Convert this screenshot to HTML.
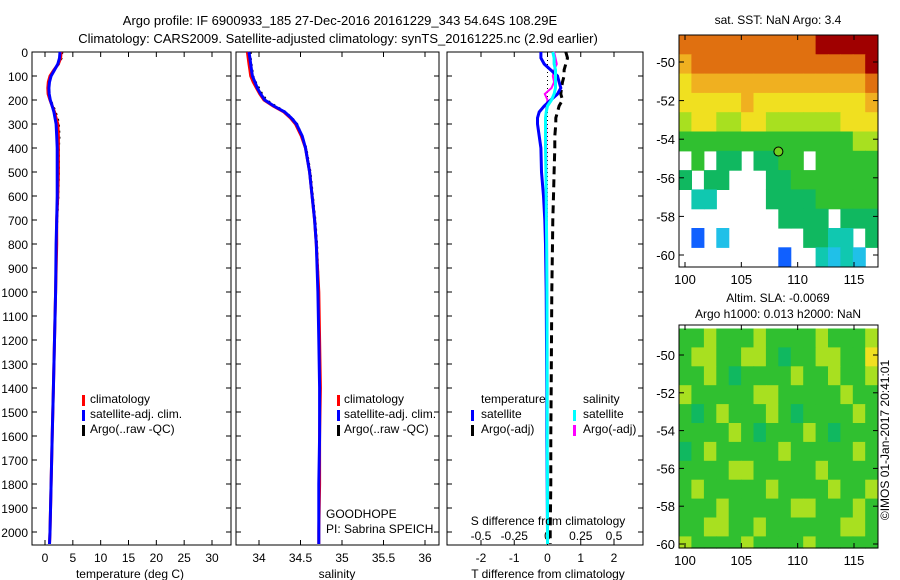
<!DOCTYPE html>
<html><head><meta charset="utf-8">
<style>
html,body{margin:0;padding:0;background:#fff;}
svg{display:block;font-family:"Liberation Sans",sans-serif;}
text{font-size:12px;fill:#000;}
</style></head>
<body>
<svg id="fig" width="900" height="580" viewBox="0 0 900 580">
<text x="340" y="25" text-anchor="middle" style="font-size:13px">Argo profile: IF 6900933_185 27-Dec-2016 20161229_343 54.64S 108.29E</text>
<text x="338" y="43" text-anchor="middle" style="font-size:13px">Climatology: CARS2009. Satellite-adjusted climatology: synTS_20161225.nc (2.9d earlier)</text>
<text x="778" y="24" text-anchor="middle">sat. SST: NaN Argo: 3.4</text>
<text x="778" y="302" text-anchor="middle">Altim. SLA: -0.0069</text>
<text x="778" y="318" text-anchor="middle">Argo h1000: 0.013 h2000: NaN</text>
<text x="0" y="0" transform="translate(889,440) rotate(-90)" text-anchor="middle">©IMOS 01-Jan-2017 20:41:01</text>
<g id="g"></g>
</svg>
<script>
// ---- profile data ----
const depths = [0,25,50,75,100,125,150,175,200,225,250,275,300,350,400,500,600,700,800,1000,1200,1400,1600,1800,2000,2050];
const tempClim = [2.9,2.8,2.4,1.6,0.9,0.6,0.5,0.55,0.9,1.3,1.7,2.0,2.3,2.4,2.4,2.4,2.3,2.1,2.1,1.9,1.7,1.5,1.3,1.1,0.9,0.8];
const tempSat  = [2.7,2.6,2.3,1.7,1.1,0.8,0.7,0.75,0.95,1.3,1.6,1.8,2.0,2.1,2.2,2.2,2.2,2.1,2.0,1.9,1.7,1.5,1.3,1.1,0.9,0.8];
const tempArgo = [3.1,3.0,2.5,1.7,1.0,0.7,0.6,0.7,1.0,1.5,1.9,2.3,2.5,2.6,2.5,2.5,2.4,2.2,2.1,1.9,1.7,1.5,1.3,1.1,0.9,0.8];
const salClim = [33.86,33.87,33.88,33.89,33.9,33.93,33.97,34.01,34.06,34.17,34.3,34.38,34.44,34.51,34.56,34.61,34.64,34.67,34.69,34.72,34.73,34.74,34.73,34.73,34.72,34.72];
const salSat  = [33.88,33.89,33.9,33.91,33.92,33.95,33.98,34.02,34.07,34.18,34.31,34.39,34.45,34.52,34.56,34.61,34.64,34.67,34.69,34.71,34.72,34.73,34.73,34.72,34.72,34.72];
const salArgo = [33.9,33.9,33.91,33.92,33.93,33.96,34.0,34.04,34.09,34.2,34.32,34.4,34.46,34.52,34.57,34.62,34.65,34.68,34.7,34.72,34.73,34.74,34.73,34.73,34.72,34.72];
const tDiffSat  = [-0.2,-0.2,-0.1,0.1,0.3,0.35,0.4,0.3,0.1,-0.1,-0.25,-0.3,-0.3,-0.25,-0.2,-0.18,-0.12,-0.08,-0.06,-0.04,-0.03,-0.02,-0.02,-0.01,0.0,0.0];
const tDiffArgo = [0.55,0.6,0.55,0.5,0.5,0.45,0.42,0.4,0.45,0.35,0.3,0.25,0.25,0.22,0.22,0.2,0.18,0.16,0.15,0.13,0.12,0.11,0.1,0.1,0.08,0.08];
const sDiffSat  = [0.04,0.05,0.05,0.06,0.06,0.06,0.06,0.05,0.03,0.0,-0.01,-0.015,-0.015,-0.015,-0.015,-0.012,-0.01,-0.008,-0.006,-0.004,-0.003,-0.002,-0.002,-0.001,0.0,0.0];
const sDiffArgo = [0.05,0.06,0.07,0.05,0.04,0.05,0.03,-0.02,0.0,-0.01,-0.01,-0.015,-0.01,-0.01,-0.01,-0.008,-0.006,-0.005,-0.004,-0.003,-0.002,-0.002,-0.001,0.0,0.0,0.0];
const depthTicks = [0,100,200,300,400,500,600,700,800,900,1000,1100,1200,1300,1400,1500,1600,1700,1800,1900,2000];
const tempTicks = [0,5,10,15,20,25,30];
const salTicks = [34,34.5,35,35.5,36];
const salTickLabels = ["34","34.5","35","35.5","36"];
const tdTicks = [-2,-1,0,1,2];
const sdTicks = [-0.5,-0.25,0,0.25,0.5];
const sdTickLabels = ["-0.5","-0.25","0","0.25","0.5"];
// ---- map data (value codes 0..9, -1 = missing) ----
const sstRows = [
[8,8,8,8,8,8,8,8,8,8,8,9,9,9,9,9],
[7,8,8,8,8,8,8,8,8,8,8,8,8,8,8,9],
[6,7,7,7,7,7,7,7,7,7,7,7,7,7,7,8],
[6,6,6,6,6,7,6,6,6,6,6,6,6,6,6,7],
[5,6,6,5,5,6,6,5,5,5,5,5,5,6,6,6],
[4,4,4,4,4,4,4,4,4,4,4,4,4,4,5,5],
[-1,4,-1,3,3,-1,3,3,4,4,-1,4,4,4,4,4],
[3,-1,3,3,-1,-1,-1,3,3,4,4,4,4,4,4,4],
[-1,2,2,-1,-1,-1,-1,3,3,3,3,4,4,4,4,4],
[-1,-1,-1,-1,-1,-1,-1,-1,3,3,3,3,-1,3,3,3],
[-1,0,-1,1,-1,-1,-1,-1,-1,-1,3,3,2,2,-1,3],
[-1,-1,-1,-1,-1,-1,-1,-1,0,-1,-1,2,1,2,1,-1]];
const slaRows = [
[4,4,5,4,4,4,5,4,4,4,4,5,4,4,4,5],
[4,5,5,4,4,5,5,4,3,4,4,5,5,4,4,6],
[4,4,5,4,3,4,4,4,4,5,4,4,5,4,4,5],
[5,4,4,4,4,4,5,5,4,4,4,4,4,5,4,4],
[4,3,4,5,4,4,4,5,4,3,4,4,4,4,5,4],
[4,4,4,4,5,4,3,4,4,4,5,4,3,4,4,4],
[3,4,5,4,4,4,4,4,5,4,4,4,4,4,5,4],
[4,4,4,4,5,5,4,4,4,4,4,5,4,4,4,4],
[4,5,4,4,4,4,4,5,4,4,4,4,5,4,4,5],
[4,4,4,5,4,4,4,4,4,5,5,4,4,4,5,4],
[4,4,5,5,4,4,5,4,4,4,4,4,4,5,5,4],
[5,4,4,4,4,5,4,4,4,4,5,4,4,4,4,4]];
const lonTicks = [100,105,110,115];
const latTicks = [-50,-52,-54,-56,-58,-60];
const floatLon = 108.29, floatLat = -54.64;
const palette = ["#1060ff","#20c0e8","#10c8b0","#10b860","#30c030","#a8e020","#f0e020","#f0b020","#e07010","#a00000"];

const NS = "http://www.w3.org/2000/svg";
const G = document.getElementById('g');
function mk(tag, attrs, parent){const e=document.createElementNS(NS,tag);for(const k in attrs)e.setAttribute(k,attrs[k]);(parent||G).appendChild(e);return e;}
function lin(d0,d1,r0,r1){return v=>r0+(v-d0)*(r1-r0)/(d1-d0);}
const yD = lin(0,2000,52,532);
const PT=52, PB=545;

function panel(name,x0,x1){
  const r=mk('rect',{x:x0,y:PT,width:x1-x0,height:PB-PT,fill:'none',stroke:'#000','stroke-width':1});
  
  
  depthTicks.forEach(d=>{
    const y=yD(d);
    mk('line',{x1:x0,x2:x0+5,y1:y,y2:y,stroke:'#000'});
    mk('line',{x1:x1-5,x2:x1,y1:y,y2:y,stroke:'#000'});
  });
}
function profile(name,xs,vals,color,w,dash){
  const pts=vals.map((v,i)=>xs(v).toFixed(1)+','+yD(depths[i]).toFixed(1)).join(' ');
  const a={points:pts,fill:'none',stroke:color,'stroke-width':w};
  if(dash)a['stroke-dasharray']=dash;
  const p=mk('polyline',a);
  
  
}
function txt(s,x,y,anchor,name,size){
  const t=mk('text',{x:x,y:y,'text-anchor':anchor||'start'});
  if(size)t.style.fontSize=size+'px';
  t.textContent=s;
  
  
  return t;
}
function legendMark(x,y,color,name){
  const r=mk('rect',{x:x,y:y-9,width:3,height:11,fill:color});
  
  
}

depthTicks.forEach(d=>{ txt(String(d),28,yD(d)+5,'end','depth-tick-label'); });

// Panel 1: temperature
const xT = lin(0,30,45,212);
panel('temperature-panel',32,231);
tempTicks.forEach(v=>{const x=xT(v);mk('line',{x1:x,x2:x,y1:PB,y2:PB-5,stroke:'#000'});mk('line',{x1:x,x2:x,y1:PT,y2:PT+5,stroke:'#000'});txt(String(v),x,562,'middle','temperature-tick-label');});
profile('temperature-argo',xT,tempArgo,'#000',2,'2,4');
profile('temperature-climatology',xT,tempClim,'#f00',3);
profile('temperature-satellite',xT,tempSat,'#00f',3);
txt('temperature (deg C)',130,578,'middle','temperature-axis-title');
legendMark(82,404,'#f00','legend-climatology-mark');txt('climatology',90,403,'start','legend-climatology');
legendMark(82,419,'#00f','legend-satellite-mark');txt('satellite-adj. clim.',90,418,'start','legend-satellite');
legendMark(82,434,'#000','legend-argo-mark');txt('Argo(..raw -QC)',90,433,'start','legend-argo');

// Panel 2: salinity
const xS = lin(34,36,259,425);
panel('salinity-panel',236,439);
salTicks.forEach((v,i)=>{const x=xS(v);mk('line',{x1:x,x2:x,y1:PB,y2:PB-5,stroke:'#000'});mk('line',{x1:x,x2:x,y1:PT,y2:PT+5,stroke:'#000'});txt(salTickLabels[i],x,562,'middle','salinity-tick-label');});
profile('salinity-argo',xS,salArgo,'#000',2,'2,4');
profile('salinity-climatology',xS,salClim,'#f00',3);
profile('salinity-satellite',xS,salSat,'#00f',3);
txt('salinity',337,578,'middle','salinity-axis-title');
legendMark(337,404,'#f00','legend2-climatology-mark');txt('climatology',344,403,'start','legend2-climatology');
legendMark(337,419,'#00f','legend2-satellite-mark');txt('satellite-adj. clim.',344,418,'start','legend2-satellite');
legendMark(337,434,'#000','legend2-argo-mark');txt('Argo(..raw -QC)',344,433,'start','legend2-argo');
txt('GOODHOPE',326,518,'start','project-label');
txt('PI: Sabrina SPEICH',326,533,'start','pi-label');

// Panel 3: differences
const xTD = lin(-2,2,481,614);
const xSD = lin(-0.5,0.5,481,614);
panel('difference-panel',447,643);
tdTicks.forEach(v=>{const x=xTD(v);mk('line',{x1:x,x2:x,y1:PB,y2:PB-5,stroke:'#000'});mk('line',{x1:x,x2:x,y1:PT,y2:PT+5,stroke:'#000'});txt(String(v),x,562,'middle','tdiff-tick-label');});
sdTicks.forEach((v,i)=>{txt(sdTickLabels[i],xSD(v),540,'middle','sdiff-tick-label');});
mk('line',{x1:xTD(0),x2:xTD(0),y1:PT,y2:PB,stroke:'#000','stroke-dasharray':'1,3'});
profile('tdiff-argo',xTD,tDiffArgo,'#000',3,'8,5');
profile('sdiff-argo',xSD,sDiffArgo,'#f0f',2);
profile('tdiff-satellite',xTD,tDiffSat,'#00f',3);
profile('sdiff-satellite',xSD,sDiffSat,'#0ff',3);
txt('S difference from climatology',548,525,'middle','sdiff-axis-title');
txt('T difference from climatology',548,578,'middle','tdiff-axis-title');
txt('temperature',481,403,'start','legend3-temperature-header');
txt('salinity',583,403,'start','legend3-salinity-header');
legendMark(471,419,'#00f','legend3-tsat-mark');txt('satellite',481,418,'start','legend3-tsat');
legendMark(471,434,'#000','legend3-targo-mark');txt('Argo(-adj)',481,433,'start','legend3-targo');
legendMark(573,419,'#0ff','legend3-ssat-mark');txt('satellite',583,418,'start','legend3-ssat');
legendMark(573,434,'#f0f','legend3-sargo-mark');txt('Argo(-adj)',583,433,'start','legend3-sargo');

// Maps
function drawMap(name,rows,top,bot,latPx0,latPx1,showFloat){
  const X0=679,X1=878;
  const xL=lin(100,115,685,854);
  const yL=lin(-50,-60,latPx0,latPx1);
  const lon0=99.47, dLon=(117.1-99.47)/rows[0].length;
  const latTop=-48.6;
  const grp=mk('g',{});
  
  
  rows.forEach((row,r)=>{
    const la0=latTop-r, la1=latTop-r-1;
    row.forEach((v,c)=>{
      if(v<0)return;
      const x0=xL(lon0+c*dLon), x1=xL(lon0+(c+1)*dLon);
      const y0=Math.max(top,yL(la0)), y1=Math.min(bot,yL(la1));
      if(y1<=y0)return;
      const cell=mk('rect',{x:x0.toFixed(1),y:y0.toFixed(1),width:(x1-x0+0.6).toFixed(1),height:(y1-y0+0.6).toFixed(1),fill:palette[v]},grp);
      
      
    });
  });
  const fr=mk('rect',{x:X0,y:top,width:X1-X0,height:bot-top,fill:'none',stroke:'#000'});
  
  
  lonTicks.forEach(v=>{const x=xL(v);mk('line',{x1:x,x2:x,y1:bot,y2:bot-5,stroke:'#000'});mk('line',{x1:x,x2:x,y1:top,y2:top+5,stroke:'#000'});txt(String(v),x,bot+17,'middle',name+'-lon-label',13);});
  latTicks.forEach(v=>{const y=yL(v);mk('line',{x1:X0,x2:X0+5,y1:y,y2:y,stroke:'#000'});mk('line',{x1:X1-5,x2:X1,y1:y,y2:y,stroke:'#000'});txt(String(v),675,y+5,'end',name+'-lat-label',13);});
  if(showFloat){
    const c=mk('circle',{cx:xL(floatLon),cy:yL(floatLat),r:4.5,fill:'#70d020',stroke:'#000','stroke-width':1});
    
    
  }
}
drawMap('sst-map',sstRows,35,267,62,255,true);
drawMap('sla-map',slaRows,325,548,355,544,false);
</script>
</body></html>
